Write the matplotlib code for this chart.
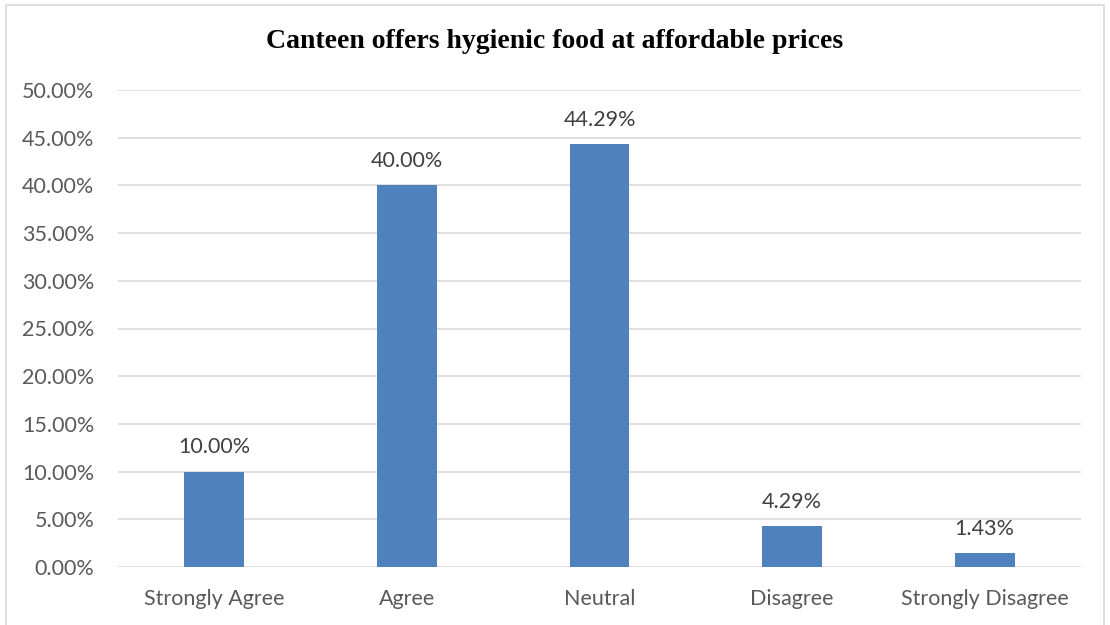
import matplotlib
matplotlib.use('Agg')
import matplotlib.pyplot as plt
from matplotlib.patches import Rectangle
from matplotlib.ticker import FuncFormatter

categories = ['Strongly Agree', 'Agree', 'Neutral', 'Disagree', 'Strongly Disagree']
values = [10.00, 40.00, 44.29, 4.29, 1.43]
yticks = [0, 5, 10, 15, 20, 25, 30, 35, 40, 45, 50]

fig = plt.figure(figsize=(11.1, 6.25), dpi=100)
ax = fig.add_axes([118/1110, 1-567/625, (1081-118)/1110, (567-90)/625])

bars = ax.bar(range(len(categories)), values, width=0.31, color='#4f81bd', zorder=3)
for b, v in zip(bars, values):
    ax.text(b.get_x() + b.get_width()/2, v + 1.5, '%.2f%%' % v, ha='center', va='bottom',
            fontsize=15.5, family='Lato', color='#404040')

ax.set_xlim(-0.5, len(categories) - 0.5)
ax.set_ylim(0, 50)
ax.set_yticks(yticks)
ax.yaxis.set_major_formatter(FuncFormatter(lambda y, p: '%.2f%%' % y))
ax.set_xticks(range(len(categories)))
ax.set_xticklabels(categories)
ax.grid(axis='y', color='#d9d9d9', linewidth=1.2, zorder=0)
for s in ax.spines.values():
    s.set_visible(False)
ax.tick_params(length=0, labelsize=15.5, labelcolor='#595959')
ax.tick_params(axis='y', pad=17)
ax.tick_params(axis='x', pad=16)
for lab in ax.get_xticklabels() + ax.get_yticklabels():
    lab.set_family('Lato')

fig.text(0.5, 1-42/625, 'Canteen offers hygienic food at affordable prices', ha='center', va='center',
         fontsize=20, fontweight='bold', family='Liberation Serif')

fig.add_artist(Rectangle((6/1110, -0.1), (1104-6)/1110, 1.1 - 5/625, transform=fig.transFigure,
                         fill=False, edgecolor='#d9d9d9', linewidth=1.2))

fig.savefig('out.png', dpi=100)
